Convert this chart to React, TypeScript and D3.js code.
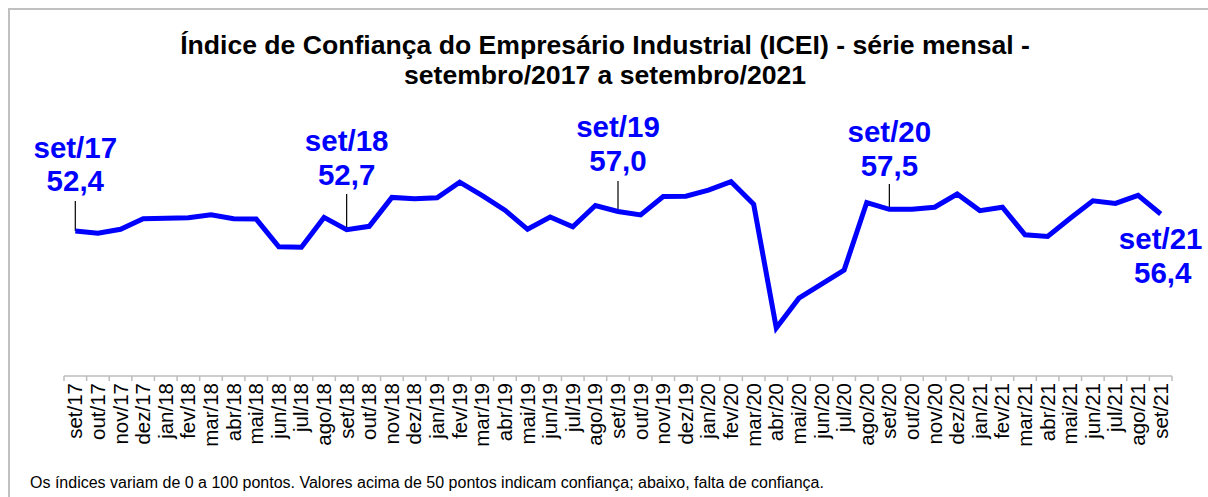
import React from "react";
import * as d3 from "d3";

const categories = [
  "set/17","out/17","nov/17","dez/17",
  "jan/18","fev/18","mar/18","abr/18","mai/18","jun/18","jul/18","ago/18","set/18","out/18","nov/18","dez/18",
  "jan/19","fev/19","mar/19","abr/19","mai/19","jun/19","jul/19","ago/19","set/19","out/19","nov/19","dez/19",
  "jan/20","fev/20","mar/20","abr/20","mai/20","jun/20","jul/20","ago/20","set/20","out/20","nov/20","dez/20",
  "jan/21","fev/21","mar/21","abr/21","mai/21","jun/21","jul/21","ago/21","set/21",
];

const values = [
  52.4, 51.9, 52.8, 55.3,
  55.4, 55.5, 56.2, 55.3, 55.2, 48.7, 48.6, 55.6, 52.7, 53.5, 60.3, 60.0,
  60.2, 63.9, 60.7, 57.3, 52.8, 55.7, 53.4, 58.4, 57.0, 56.2, 60.5, 60.6,
  62.0, 64.0, 58.7, 29.6, 36.6, 39.9, 43.2, 59.1, 57.5, 57.5, 58.0, 61.1,
  57.2, 58.0, 51.5, 51.1, 55.4, 59.5, 58.9, 60.8, 56.4,
];

const labelled = ["set/17", "set/18", "set/19", "set/20", "set/21"];

const titleLines = [
  "Índice de Confiança do Empresário Industrial (ICEI) - série mensal -",
  "setembro/2017 a setembro/2021",
];

const footnote =
  "Os índices variam de 0 a 100 pontos. Valores acima de 50 pontos indicam confiança; abaixo, falta de confiança.";

const FONT = "'Liberation Sans', Arial, sans-serif";
const BLUE = "#0000ff";

const labelPlacement: Record<string, { above: boolean; top: number; leaderTop: number }> = {
  "set/17": { above: true, top: 157.5, leaderTop: 201 },
  "set/18": { above: true, top: 151, leaderTop: 194 },
  "set/19": { above: true, top: 137, leaderTop: 181 },
  "set/20": { above: true, top: 142, leaderTop: 184 },
  "set/21": { above: false, top: 249, leaderTop: 0 },
};

export default function App() {
  const W = 1208;
  const H = 497;
  const x = d3.scaleBand<string>().domain(categories).range([64, 1172]).paddingInner(0).paddingOuter(0);
  const y = d3.scaleLinear().domain([20, 70]).range([368.7, 156.2]);
  const axisY = 376;
  const cx = (c: string) => (x(c) as number) + x.bandwidth() / 2;

  const line = d3
    .line<number>()
    .x((_, i) => cx(categories[i]))
    .y((v) => y(v));

  const tickXs = d3.range(categories.length + 1).map((i) => 64 + i * x.step());

  return (
    <svg
      width={W}
      height={H}
      style={{ position: "absolute", left: 0, top: 0, background: "#fff" }}
      fontFamily={FONT}
    >
      <rect x={9} y={9} width={W + 10} height={H + 10} fill="#fff" stroke="#c0c0c0" strokeWidth={2} />
      {titleLines.map((t, i) => (
        <text
          key={i}
          x={605}
          y={54 + i * 30}
          textAnchor="middle"
          fontSize={26.6}
          fontWeight="bold"
          fill="#000"
        >
          {t}
        </text>
      ))}

      {/* axis */}
      <line x1={64} x2={1172} y1={axisY} y2={axisY} stroke="#bdbdbd" strokeWidth={1.5} />
      {tickXs.map((tx, i) => (
        <line key={i} x1={tx} x2={tx} y1={axisY} y2={axisY + 5} stroke="#bdbdbd" strokeWidth={1.5} />
      ))}
      {categories.map((c) => (
        <text
          key={c}
          transform={`translate(${cx(c) + 7},${axisY + 7}) rotate(-90)`}
          textAnchor="end"
          fontSize={20.5}
          fill="#000"
        >
          {c}
        </text>
      ))}

      {/* leaders */}
      {labelled.map((c) => {
        const p = labelPlacement[c];
        if (!p.above) return null;
        const i = categories.indexOf(c);
        return (
          <line key={c} x1={cx(c)} x2={cx(c)} y1={p.leaderTop} y2={y(values[i])} stroke="#000" strokeWidth={1.2} />
        );
      })}

      <path d={line(values) || ""} fill="none" stroke={BLUE} strokeWidth={5} strokeLinejoin="miter" />

      {labelled.map((c) => {
        const p = labelPlacement[c];
        const i = categories.indexOf(c);
        const v = values[i].toFixed(1).replace(".", ",");
        return (
          <g key={c} fill={BLUE} fontWeight="bold" fontSize={29.5} textAnchor="middle">
            <text x={cx(c)} y={p.top}>{c}</text>
            <text x={cx(c) + (p.above ? 0 : 2)} y={p.top + 33.5}>{v}</text>
          </g>
        );
      })}

      <text x={30} y={488} fontSize={16} fill="#000">
        {footnote}
      </text>
    </svg>
  );
}
